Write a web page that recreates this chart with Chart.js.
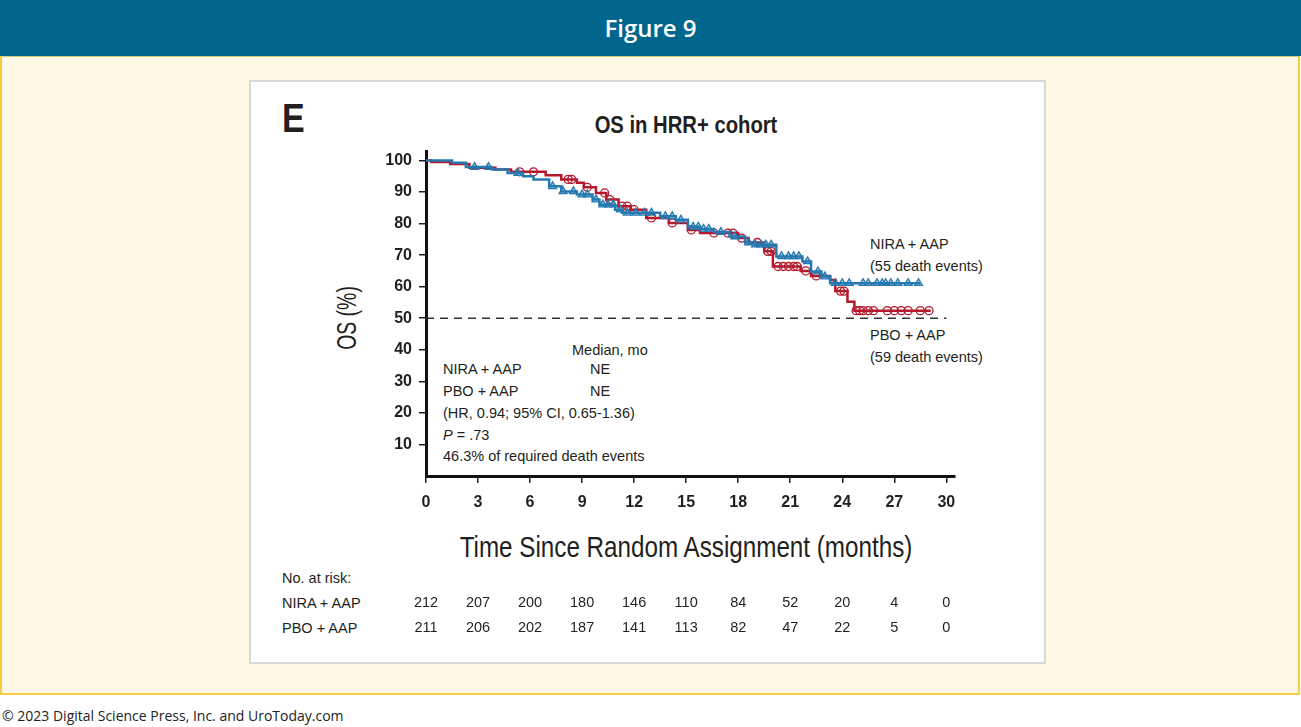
<!DOCTYPE html>
<html>
<head>
<meta charset="utf-8">
<script src="https://cdn.jsdelivr.net/npm/chart.js@4/dist/chart.umd.min.js"></script>
<style>
  body { margin: 0; width: 1301px; height: 727px; background: #fff; position: relative; overflow: hidden; font-family: "Liberation Sans", Arial, sans-serif; color: #231f20; }
  #banner { position: absolute; left: 0; top: 0; width: 1301px; height: 56px; background: #00668e; color: #fff; text-align: center; line-height: 56px; font-family: "Open Sans", sans-serif; font-weight: 600; font-size: 24px; }
  #frame { position: absolute; left: 0; top: 56px; width: 1300px; height: 639px; box-sizing: border-box; border: 2px solid #f8cb45; border-top: 1px solid #d9c97a; background: #fff8e7; }
  #panel { position: absolute; left: 249px; top: 80px; width: 797px; height: 584px; box-sizing: border-box; border: 2px solid #d8d8d8; background: #fff; }
  #footer { position: absolute; left: 2px; top: 706px; font-family: "Open Sans", sans-serif; font-size: 14px; color: #222; }
  .t { position: absolute; white-space: nowrap; transform: translateY(-50%); line-height: 1; }
  .ann { font-size: 14.5px; }
  canvas { position: absolute; left: 0; top: 0; }
</style>
</head>
<body>
<div id="banner">Figure 9</div>
<div id="frame"></div>
<div id="panel"></div>
<div id="footer">© 2023 Digital Science Press, Inc. and UroToday.com</div>

<div class="t" style="left:282px;top:118px;font-size:40px;font-weight:bold;transform:translateY(-50%) scaleX(0.85);transform-origin:left center;">E</div>
<div class="t" style="left:686px;top:125px;font-size:23px;font-weight:bold;transform:translate(-50%,-50%) scaleX(0.88);">OS in HRR+ cohort</div>
<div class="t" style="left:347px;top:318px;font-size:27px;transform:translate(-50%,-50%) rotate(-90deg) scaleX(0.72);">OS (%)</div>
<div class="t" style="left:686px;top:547px;font-size:29px;transform:translate(-50%,-50%) scaleX(0.835);">Time Since Random Assignment (months)</div>

<div class="t ann" style="left:572px;top:350px;">Median, mo</div>
<div class="t ann" style="left:443px;top:369px;">NIRA + AAP</div>
<div class="t ann" style="left:590px;top:369px;">NE</div>
<div class="t ann" style="left:443px;top:391px;">PBO + AAP</div>
<div class="t ann" style="left:590px;top:391px;">NE</div>
<div class="t ann" style="left:443px;top:413px;">(HR, 0.94; 95% CI, 0.65-1.36)</div>
<div class="t ann" style="left:443px;top:435px;"><i>P</i> = .73</div>
<div class="t ann" style="left:443px;top:456px;">46.3% of required death events</div>

<div class="t ann" style="left:870px;top:244px;">NIRA + AAP</div>
<div class="t ann" style="left:870px;top:266px;">(55 death events)</div>
<div class="t ann" style="left:870px;top:335px;">PBO + AAP</div>
<div class="t ann" style="left:870px;top:357px;">(59 death events)</div>

<div class="t ann" style="left:282px;top:578px;">No. at risk:</div>
<div class="t ann" style="left:282px;top:603px;">NIRA + AAP</div>
<div class="t ann" style="left:282px;top:628px;">PBO + AAP</div>

<canvas id="km" width="1301" height="727"></canvas>
<script>
var xTicks = [0, 3, 6, 9, 12, 15, 18, 21, 24, 27, 30];
var yTicks = [10, 20, 30, 40, 50, 60, 70, 80, 90, 100];

// NIRA + AAP, Kaplan-Meier steps (months, OS %)
var niraTime = [0, 1.5, 2.3, 3.8, 4.7, 5.6, 6.2, 7.1, 7.8, 8.7, 9.6, 10.0, 10.9, 11.3, 13.5, 14.4, 15.1, 15.8, 16.6, 17.5, 18.4, 19.0, 20.2, 21.7, 22.2, 22.8, 23.3, 28.5];
var niraSurv = [100, 99.3, 97.9, 97.1, 96.0, 95.0, 94.0, 91.8, 90.2, 89.2, 87.6, 86.0, 84.4, 83.4, 82.3, 81.2, 79.0, 78.3, 77.3, 75.9, 74.0, 73.3, 69.6, 68.0, 64.8, 63.2, 61.1, 61.1];
var niraCensor = [2.8, 3.6, 5.3, 7.3, 7.9, 8.5, 9.0, 9.3, 9.8, 10.2, 10.5, 10.8, 11.2, 11.6, 12.1, 12.6, 13.0, 13.8, 14.2, 14.7, 15.4, 15.7, 16.0, 16.3, 17.0, 17.8, 18.6, 19.0, 19.3, 19.6, 19.9, 20.5, 20.9, 21.2, 21.5, 22.0, 22.6, 23.0, 23.6, 24.0, 24.4, 25.2, 25.5, 26.0, 26.3, 26.5, 26.8, 27.2, 27.8, 28.4];

// PBO + AAP
var pboTime = [0, 0.3, 1.4, 2.5, 4.0, 4.9, 6.9, 7.8, 8.7, 9.1, 9.8, 10.4, 11.1, 11.8, 12.7, 14.0, 15.1, 15.8, 18.0, 18.6, 19.5, 20.0, 21.6, 22.2, 23.3, 23.6, 24.3, 24.7, 29.1];
var pboSurv = [100, 99.5, 98.9, 97.7, 97.1, 96.4, 95.3, 94.0, 92.9, 91.5, 89.7, 87.6, 85.5, 84.4, 81.8, 80.2, 78.0, 77.0, 75.4, 74.0, 71.2, 66.4, 65.0, 63.4, 62.1, 58.6, 55.2, 52.4, 52.4];
var pboCensor = [5.4, 6.2, 8.2, 8.4, 9.3, 10.3, 10.6, 11.3, 11.6, 12.0, 13.0, 14.2, 15.3, 16.6, 17.4, 17.7, 18.2, 19.1, 19.7, 19.9, 20.3, 20.6, 20.9, 21.2, 21.4, 21.9, 22.5, 23.9, 24.1, 24.8, 25.0, 25.2, 25.5, 25.8, 26.6, 27.0, 27.4, 27.8, 28.5, 29.0];

var riskNira = [212, 207, 200, 180, 146, 110, 84, 52, 20, 4, 0];
var riskPbo = [211, 206, 202, 187, 141, 113, 82, 47, 22, 5, 0];
var medianLevel = 50;

var blue = '#2479b0';
var red = '#b5172b';

function steps(times, surv) {
    return times.map(function (t, i) { return { x: t, y: surv[i] }; });
}
// censor marks sit on the curve
function marks(cens, times, surv) {
    return cens.map(function (c) {
        var s = surv[0];
        for (var i = 0; i < times.length; i++) { if (times[i] <= c) s = surv[i]; }
        return { x: c, y: s };
    });
}

var riskTable = {
    id: 'riskTable',
    afterDraw: function (chart) {
        var ctx = chart.ctx, xs = chart.scales.x;
        ctx.save();
        ctx.font = '14.5px "Liberation Sans", Arial, sans-serif';
        ctx.fillStyle = '#231f20';
        ctx.textAlign = 'center';
        ctx.textBaseline = 'middle';
        xTicks.forEach(function (t, i) {
            var px = xs.getPixelForValue(t);
            ctx.fillText(String(riskNira[i]), px, 603);
            ctx.fillText(String(riskPbo[i]), px, 628);
        });
        ctx.restore();
    }
};

var tickFont = { family: '"Liberation Sans", Arial, sans-serif', size: 16, weight: 'bold' };

new Chart(document.getElementById('km'), {
    type: 'line',
    data: {
        datasets: [{
            data: [{ x: 0, y: medianLevel }, { x: 30, y: medianLevel }],
            borderColor: '#333',
            borderWidth: 1.3,
            borderDash: [8, 6],
            pointRadius: 0
        }, {
            data: steps(niraTime, niraSurv),
            stepped: true,
            borderColor: blue,
            borderWidth: 2.5,
            pointRadius: 0
        }, {
            type: 'scatter',
            data: marks(niraCensor, niraTime, niraSurv),
            pointStyle: 'triangle',
            pointRadius: 4.5,
            borderWidth: 1.3,
            borderColor: blue,
            backgroundColor: 'rgba(36,121,176,0.35)'
        }, {
            data: steps(pboTime, pboSurv),
            stepped: true,
            borderColor: red,
            borderWidth: 2.5,
            pointRadius: 0
        }, {
            type: 'scatter',
            data: marks(pboCensor, pboTime, pboSurv),
            pointStyle: 'circle',
            pointRadius: 4,
            borderWidth: 1.3,
            borderColor: red,
            backgroundColor: 'rgba(255,255,255,0)'
        }]
    },
    options: {
        responsive: false,
        animation: false,
        devicePixelRatio: 1,
        layout: { padding: { left: 366, right: 346, top: 151, bottom: 211 } },
        plugins: { legend: { display: false }, tooltip: { enabled: false } },
        scales: {
            x: {
                type: 'linear',
                min: 0,
                max: 30.5,
                afterBuildTicks: function (s) { s.ticks = xTicks.map(function (v) { return { value: v }; }); },
                afterFit: function (s) { s.height = 40; },
                grid: { drawOnChartArea: false, drawTicks: true, tickLength: 7, color: '#231f20', lineWidth: 1.5 },
                border: { display: true, color: '#111', width: 3 },
                ticks: { font: tickFont, color: '#231f20', padding: 10, maxRotation: 0, autoSkip: false }
            },
            y: {
                min: 0,
                max: 103,
                afterBuildTicks: function (s) { s.ticks = yTicks.map(function (v) { return { value: v }; }); },
                afterFit: function (s) { s.width = 60; },
                grid: { drawOnChartArea: false, drawTicks: true, tickLength: 7, color: '#231f20', lineWidth: 1.5 },
                border: { display: true, color: '#111', width: 3 },
                ticks: { font: tickFont, color: '#231f20', padding: 7 }
            }
        }
    },
    plugins: [riskTable]
});
</script>
</body>
</html>
